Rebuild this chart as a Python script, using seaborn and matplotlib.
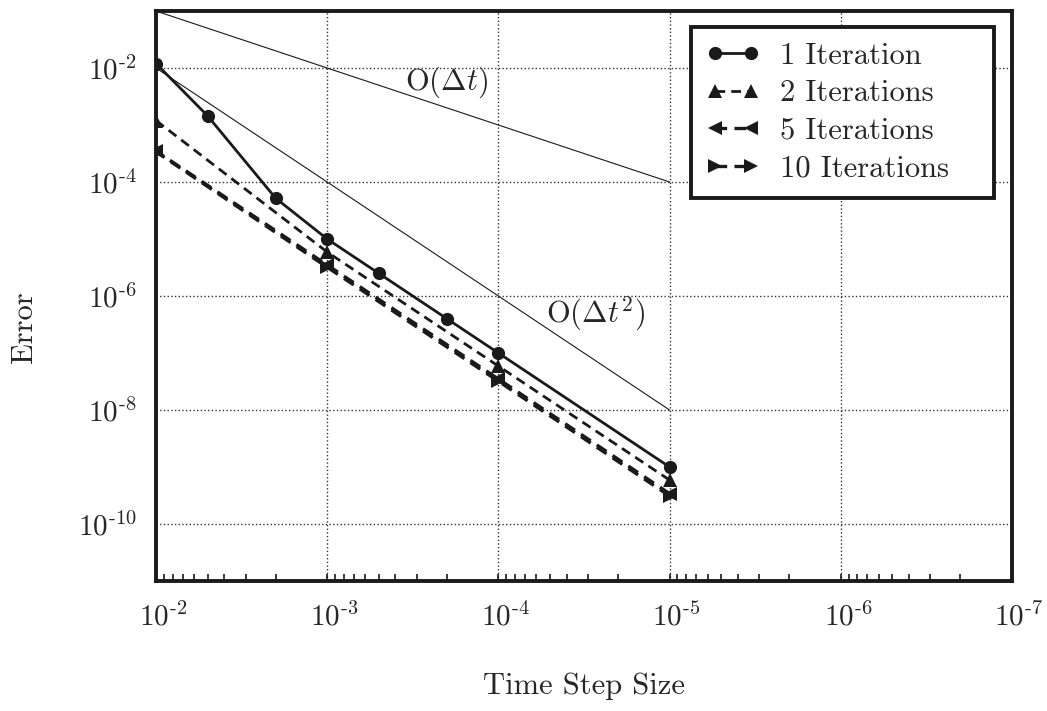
import numpy as np
import pandas as pd
import matplotlib
matplotlib.use('Agg')
import matplotlib.pyplot as plt
import matplotlib.transforms as mtransforms
import seaborn as sns
from matplotlib.ticker import NullLocator, FuncFormatter

# data (log-log convergence plot)
dt_one = [1e-2, 5e-3, 2e-3, 1e-3, 5e-4, 2e-4, 1e-4, 1e-5]
err_one = [1.2e-2, 1.45e-3, 5.2e-5, 1.0e-5, 2.5e-6, 4.0e-7, 1.0e-7, 1.0e-9]

dt_iter = [1e-2, 1e-3, 1e-4, 1e-5]
err_two = [1.2e-3, 5.9e-6, 5.9e-8, 5.9e-10]
err_five = [3.5e-4, 3.5e-6, 3.5e-8, 3.4e-10]
err_ten = [3.4e-4, 3.2e-6, 3.2e-8, 3.1e-10]

ref_dt = [1e-2, 1e-5]
ref_first = [1e-1, 1e-4]
ref_second = [1e-2, 1e-8]

xtick_vals = [1e-2, 1e-3, 1e-4, 1e-5, 1e-6, 1e-7]
ytick_vals = [1e-10, 1e-8, 1e-6, 1e-4, 1e-2]

sns.set_theme(style='white')
plt.rcParams['font.family'] = ['cmr10', 'DejaVu Serif']
plt.rcParams['mathtext.fontset'] = 'cm'
plt.rcParams['axes.formatter.use_mathtext'] = True
plt.rcParams['axes.unicode_minus'] = False


def pow_label(v, pos):
    # short hyphen in the exponent, like the reference
    return r'$10^{\text{-}%d}$' % round(-np.log10(v))


fig = plt.figure(figsize=(10.47, 7.11), dpi=100)
ax = fig.add_axes([0.149, 0.1828, 0.8176, 0.8017])
ax.set_xscale('log')
ax.set_yscale('log')

one = pd.DataFrame({'dt': dt_one, 'err': err_one})
two = pd.DataFrame({'dt': dt_iter, 'err': err_two})
five = pd.DataFrame({'dt': dt_iter, 'err': err_five})
ten = pd.DataFrame({'dt': dt_iter, 'err': err_ten})

# reference slopes
ax.plot(ref_dt, ref_first, color='k', lw=0.8)
ax.plot(ref_dt, ref_second, color='k', lw=0.8)

dash = (0, (3.5, 2.2))
sns.lineplot(x='dt', y='err', data=one, ax=ax, color='k', lw=2.0, marker='o',
             ms=9.5, mec='k', mew=0, errorbar=None, label='1 Iteration')
sns.lineplot(x='dt', y='err', data=two, ax=ax, color='k', lw=2.0, marker='^',
             ms=10, mec='k', mew=0, ls=dash, errorbar=None, label='2 Iterations')
sns.lineplot(x='dt', y='err', data=five, ax=ax, color='k', lw=2.4, marker='<',
             ms=10, mec='k', mew=0, ls=dash, errorbar=None, label='5 Iterations')
sns.lineplot(x='dt', y='err', data=ten, ax=ax, color='k', lw=2.4, marker='>',
             ms=10, mec='k', mew=0, ls=dash, errorbar=None, label='10 Iterations')

ax.text(2e-4, 5.6e-3, r'O($\Delta t$)', fontsize=22, ha='center', va='center')
ax.text(2.7e-5, 4.8e-7, r'O($\Delta t^2$)', fontsize=22, ha='center', va='center')

ax.set_xlim(1e-2, 1e-7)
ax.set_ylim(1e-11, 1e-1)
ax.set_xticks(xtick_vals)
ax.set_yticks(ytick_vals)
ax.yaxis.set_major_formatter(FuncFormatter(pow_label))
ax.xaxis.set_major_formatter(FuncFormatter(pow_label))
ax.yaxis.set_minor_locator(NullLocator())

ax.grid(True, which='major', linestyle=':', color='#333333', linewidth=1)
ax.tick_params(axis='x', which='both', direction='in', bottom=True, top=False,
               length=5, width=1.2, color='k', labelsize=21, pad=15)
ax.tick_params(axis='y', which='both', left=False, right=False, length=0,
               labelsize=21, pad=14)
for sp in ax.spines.values():
    sp.set_linewidth(2.8)
    sp.set_color('k')

# base of the power label sits over the tick, as in the reference
shift = mtransforms.ScaledTranslation(0.07, 0, fig.dpi_scale_trans)
for lbl in ax.get_xticklabels():
    lbl.set_transform(lbl.get_transform() + shift)

ax.set_xlabel('Time Step Size', fontsize=22)
ax.set_ylabel('Error', fontsize=22)
ax.xaxis.set_label_coords(0.5, -0.16)
ax.yaxis.set_label_coords(-0.138, 0.446)

leg = ax.legend(loc='upper right', bbox_to_anchor=(0.625, 0.0, 0.3545, 0.972),
                mode='expand', borderaxespad=0, fontsize=22, numpoints=2,
                handlelength=1.75, handletextpad=0.65, borderpad=0.5,
                labelspacing=0.33, fancybox=False, framealpha=1, edgecolor='k')
leg.get_frame().set_linewidth(2.8)

fig.savefig('out.png', dpi=100)
